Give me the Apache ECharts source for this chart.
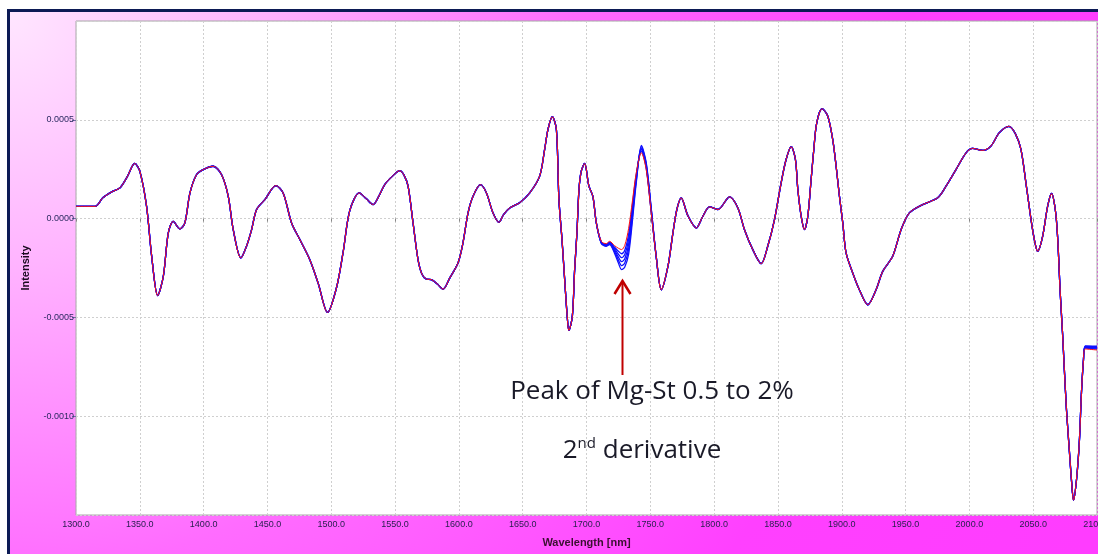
<!DOCTYPE html>
<html>
<head>
<meta charset="utf-8">
<script src="https://cdn.jsdelivr.net/npm/echarts@6/dist/echarts.min.js"></script>
<style>
  html, body { margin: 0; padding: 0; background: #ffffff; width: 1098px; height: 554px; overflow: hidden; }
  #frame { position: absolute; left: 7px; top: 9px; width: 1094px; height: 548px;
    border-top: 3px solid #0c1a55; border-left: 3px solid #0c1a55;
    background: radial-gradient(circle at 0 0, #ffe6ff 0px, #ffb4ff 250px, #ff6cff 560px, #ff40ff 900px, #ff3cff 1200px); }
  #chart { position: absolute; left: 0; top: 0; width: 1098px; height: 554px; }
</style>
</head>
<body>
<div id="frame"></div>
<div id="chart"></div>
<script>
// Wavelength (nm) and 2nd-derivative intensity (x 1e-4)
const wavelengths = [
  1300, 1315, 1321, 1328, 1334.5, 1340, 1346, 1350, 1355.3, 1359.3, 1364, 1368.4, 1372.3, 1376.2, 1381.4, 1385.3,
  1389.3, 1394.5, 1399.7, 1407.5, 1414, 1419.3, 1423.2, 1429.2, 1433.6, 1437.6, 1441.5, 1448, 1456.6, 1462.3,
  1468.9, 1475.4, 1483.2, 1489.7, 1497.1, 1504.1, 1509.3, 1514.5, 1522, 1527.5, 1532.8, 1537, 1541.9, 1548,
  1553.7, 1557, 1560.2, 1564.1, 1568, 1571, 1574.6, 1578.5, 1583, 1587.6, 1592.8, 1599.3, 1603.2, 1607.2,
  1611.1, 1616.9, 1621.6, 1626.7, 1631.4, 1635, 1639.8, 1647.6, 1655.5, 1663.3, 1667.2, 1669.8, 1673.2,
  1676.4, 1678.4, 1680.8, 1682.9, 1684.7, 1686.2, 1688.9, 1690.7, 1692.5, 1694.1, 1695.9, 1698.5, 1701.9,
  1705, 1707.7, 1711.6, 1715.5, 1718.1, 1722, 1725, 1727.5, 1730, 1733, 1736, 1739, 1743, 1746.8, 1750.7,
  1754.6, 1758.6, 1763.8, 1767.7, 1770.8, 1774.2, 1779.4, 1786, 1791.2, 1796.4, 1803, 1812.1, 1818.6,
  1823.8, 1830.3, 1836.9, 1842, 1847.3, 1852.5, 1856.4, 1860.4, 1863.7, 1865.6, 1868.2, 1870.8, 1873.4,
  1876, 1878.1, 1880.4, 1884.6, 1889, 1892.9, 1895.6, 1898.2, 1900.8, 1903.4, 1908.6, 1913.8, 1920.4,
  1926.9, 1932.1, 1939.9, 1946.5, 1953, 1963.4, 1975.2, 1981.7, 1989.5, 1997.4, 2002.5, 2010.3, 2016.9,
  2023.5, 2031, 2036, 2040.4, 2044.3, 2048.3, 2050.9, 2053.5, 2057.4, 2061.3, 2064.4, 2067.3, 2069.1,
  2071.2, 2073, 2074.3, 2076.1, 2078.3, 2080, 2081.6, 2083.9, 2086.1, 2087.8, 2089.4, 2090.8, 2100
];
const redIntensity = [
  0.62, 0.62, 1.05, 1.35, 1.56, 2.1, 2.79, 2.40, 0.62, -1.91, -3.90, -2.93, -0.73, -0.14, -0.52, -0.22,
  1.30, 2.23, 2.48, 2.65, 2.23, 1.13, -0.56, -1.99, -1.40, -0.56, 0.46, 0.96, 1.67, 1.30,
  -0.22, -1.06, -2.08, -3.26, -4.75, -3.50, -1.70, 0.40, 1.30, 1.00, 0.71, 1.10, 1.72, 2.15,
  2.43, 2.20, 1.64, -0.22, -2.08, -2.80, -3.06, -3.09, -3.30, -3.57, -3.01, -2.25, -1.23, 0.29,
  1.13, 1.72, 1.30, 0.29, -0.19, 0.20, 0.54, 0.80, 1.30, 2.15, 3.50, 4.51, 5.16,
  4.51, 0.96, -1.06, -3.09, -4.78, -5.66, -4.95, -2.59, -0.73, 1.47, 2.40, 2.79, 1.64,
  1.13, -0.22, -1.15, -1.27, -1.15, -1.37, -1.50, -1.57, -1.35, -0.50, 0.90, 2.32, 3.33, 2.48, 0.29,
  -1.91, -3.60, -2.42, -0.73, 0.46, 1.05, 0.15, -0.47, 0.12, 0.59, 0.46, 1.10, 0.54,
  -0.56, -1.57, -2.28, -1.40, -0.05, 1.81, 2.99, 3.64, 2.99, 1.47, 0.12, -0.56, 0.12,
  1.98, 3.50, 4.85, 5.56, 5.19, 4.01, 2.65, 1.13, -0.22, -1.74, -2.75, -3.60, -4.36,
  -3.60, -2.67, -1.91, -0.56, 0.29, 0.71, 1.05, 1.64, 2.48, 3.33, 3.55, 3.45, 3.67,
  4.35, 4.67, 4.30, 3.50, 1.81, -0.05, -1.06, -1.66, -0.90, 0.62, 1.27, 0.46, -0.90,
  -3.77, -5.80, -7.49, -9.69, -11.71, -13.24, -14.25, -13.24, -11.37, -8.84, -7.15, -6.60, -6.65
];
// Blue spectra differ from the red one around the Mg-St band and in the flat tail
const peakWavelengths = [1711.6, 1715.5, 1718.1, 1722, 1725, 1727.5, 1730, 1733, 1736, 1739, 1743, 1746.8, 1750.7];
const bluePeaks = [
  [-1.18, -1.30, -1.19, -1.45, -1.65, -1.78, -1.60, -0.80, 0.70, 2.22, 3.42, 2.55, 0.34],
  [-1.20, -1.33, -1.22, -1.52, -1.80, -1.98, -1.82, -1.05, 0.50, 2.12, 3.50, 2.62, 0.39],
  [-1.22, -1.35, -1.25, -1.60, -1.95, -2.18, -2.03, -1.30, 0.30, 2.02, 3.57, 2.69, 0.44],
  [-1.24, -1.38, -1.28, -1.68, -2.10, -2.38, -2.25, -1.55, 0.10, 1.92, 3.64, 2.76, 0.49],
  [-1.26, -1.40, -1.31, -1.76, -2.25, -2.58, -2.45, -1.80, -0.10, 1.82, 3.70, 2.83, 0.54]
];
const blueTails = [
  [-6.55, -6.60], [-6.52, -6.56], [-6.50, -6.52], [-6.47, -6.49], [-6.44, -6.46]
];
const xTickStep = 50;
const yTickStep = 0.0005;

const SCALE = 1e-4;
const peakStart = wavelengths.indexOf(peakWavelengths[0]);
function buildBlue(k) {
  const vals = redIntensity.slice();
  bluePeaks[k].forEach((v, j) => { vals[peakStart + j] = v; });
  const n = vals.length;
  vals[n - 2] = blueTails[k][0];
  vals[n - 1] = blueTails[k][1];
  return wavelengths.map((w, i) => [w, vals[i] * SCALE]);
}
const redData = wavelengths.map((w, i) => [w, redIntensity[i] * SCALE]);

const series = [];
for (let k = 0; k < bluePeaks.length; k++) {
  series.push({
    type: 'line', data: buildBlue(k), showSymbol: false, smooth: 0.3, silent: true,
    lineStyle: { color: '#1010ff', width: 1.3 }, z: 2
  });
}
series.push({
  type: 'line', data: redData, showSymbol: false, smooth: 0.3, silent: true,
  lineStyle: { color: '#ff1010', width: 1.0 }, z: 3
});

const chart = echarts.init(document.getElementById('chart'), null, { renderer: 'canvas' });
const gridLine = { show: true, lineStyle: { color: '#cfcfcf', type: [2, 2], width: 1 } };
chart.setOption({
  animation: false,
  backgroundColor: 'transparent',
  grid: { left: 76, top: 21, right: 1, bottom: 39, containLabel: false, outerBoundsMode: 'none',
    show: true, backgroundColor: '#ffffff', borderColor: '#a8a8a8', borderWidth: 1 },
  xAxis: {
    type: 'value', min: 1300, max: 2100, interval: xTickStep,
    name: 'Wavelength [nm]', nameLocation: 'middle', nameGap: 22,
    nameTextStyle: { fontFamily: 'Liberation Sans', fontSize: 11, fontWeight: 'bold', color: '#3a1030' },
    axisLine: { show: false },
    axisTick: { show: true, length: 3, lineStyle: { color: '#888' } },
    axisLabel: { fontFamily: 'Liberation Sans', fontSize: 9, color: '#2a2050', margin: 5,
      formatter: v => v.toFixed(1) },
    splitLine: gridLine
  },
  yAxis: {
    type: 'value', min: -0.0015, max: 0.0010, interval: yTickStep,
    name: 'Intensity', nameLocation: 'middle', nameGap: 45,
    nameTextStyle: { fontFamily: 'Liberation Sans', fontSize: 11, fontWeight: 'bold', color: '#1a0a20' },
    axisLine: { show: false },
    axisTick: { show: true, length: 4, lineStyle: { color: '#7070a0' } },
    axisLabel: { fontFamily: 'Liberation Sans', fontSize: 9, color: '#2a2a60', margin: 2,
      showMinLabel: false, showMaxLabel: false,
      formatter: v => (Math.abs(v) < 1e-12 ? 0 : v).toFixed(4) },
    splitLine: gridLine
  },
  series: series
});

// Annotation arrow pointing at the Mg-St band
const tip = chart.convertToPixel({ gridIndex: 0 }, [1727.5, -2.6 * SCALE]);
const ax = Math.round(tip[0]) + 0.5;
const tipY = tip[1] + 11;
chart.setOption({
  graphic: [
    { type: 'line', shape: { x1: ax, y1: tipY + 2, x2: ax, y2: 375 }, style: { stroke: '#c00000', lineWidth: 2 }, z: 10 },
    { type: 'polyline', shape: { points: [[ax - 8, tipY + 13], [ax, tipY], [ax + 8, tipY + 13]] },
      style: { stroke: '#c00000', lineWidth: 2.5, fill: null }, z: 10 },
    { type: 'text', x: 652, y: 392, z: 10,
      style: { text: 'Peak of Mg-St 0.5 to 2%', font: '26px "Open Sans"', fill: '#1a1a28', align: 'center', verticalAlign: 'middle' } },
    { type: 'text', x: 642, y: 447, z: 10,
      style: { text: '{a|2}{s|nd}{a| derivative}', align: 'center', verticalAlign: 'middle',
        rich: {
          a: { font: '26px "Open Sans"', fill: '#1a1a28', verticalAlign: 'bottom', lineHeight: 34 },
          s: { font: '15px "Open Sans"', fill: '#1a1a28', verticalAlign: 'top', lineHeight: 34, padding: [6, 0, 0, 0] }
        } } }
  ]
});
</script>
</body>
</html>
